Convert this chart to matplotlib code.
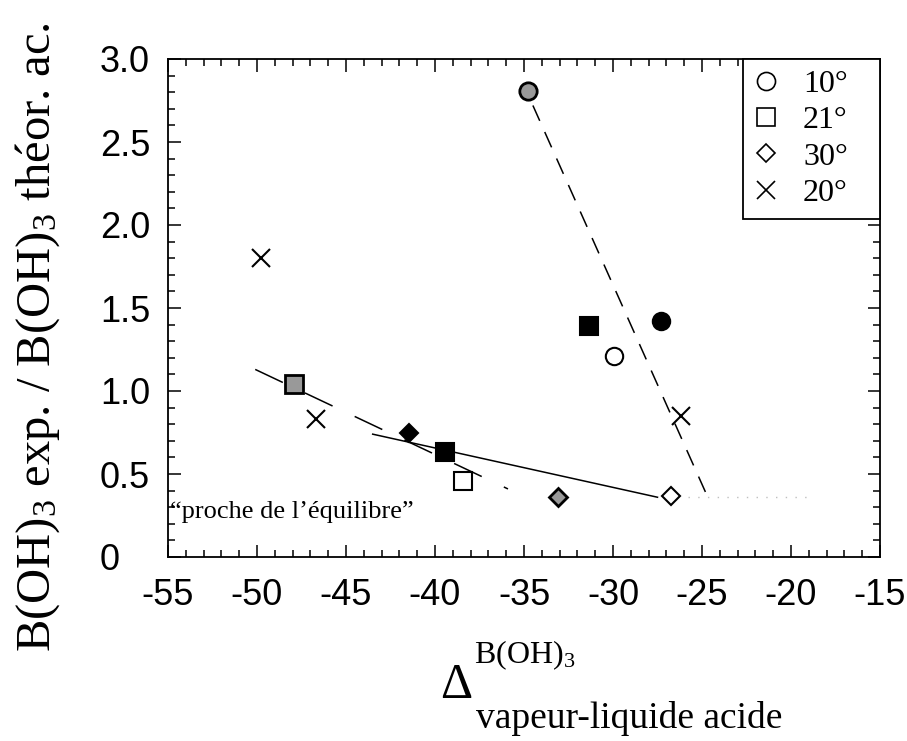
import numpy as np
import matplotlib
matplotlib.use("Agg")
import matplotlib.pyplot as plt
from matplotlib.lines import Line2D
from matplotlib.ticker import MultipleLocator, FuncFormatter

plt.rcParams['mathtext.fontset'] = 'custom'
plt.rcParams['mathtext.rm'] = 'Liberation Serif'
plt.rcParams['mathtext.it'] = 'Liberation Serif:italic'

SERIF = 'Liberation Serif'
SANS = 'Liberation Sans'

# points: (x, y)
# 10 deg, circles
c10_grey = ([-34.8], [2.81])
c10_black = ([-27.3], [1.42])
c10_open = ([-29.95], [1.21])
# 21 deg, squares
s21_grey = ([-47.9], [1.04])
s21_black = ([-31.35, -39.45], [1.39, 0.63])
s21_open = ([-38.4], [0.46])
# 30 deg, diamonds
d30_black = ([-41.45], [0.75])
d30_grey = ([-33.1], [0.36])
d30_open = ([-26.75], [0.37])
# 20 deg, crosses
x20 = ([-49.8, -46.7, -26.2], [1.80, 0.83, 0.85])

# trend lines
steep_x = [-34.5, -24.8]
steep_y = [2.72, 0.39]
low_dash_x = [-50.1, -35.9]
low_dash_y = [1.13, 0.41]
solid_x = [-43.5, -27.5]
solid_y = [0.74, 0.36]
dots_x = [-25.8, -18.8]
dots_y = [0.36, 0.36]

legend_labels = ['10°', '21°', '30°', '20°']

fig = plt.figure(figsize=(9.07, 7.41), dpi=100)
ax = fig.add_axes([168 / 907, 1 - 557 / 741, (880 - 168) / 907, (557 - 59) / 741])

ax.plot(steep_x, steep_y, color='black', lw=1.1, dashes=(11, 8))
ax.plot(low_dash_x, low_dash_y, color='black', lw=1.1, dashes=(20, 16))
ax.plot(solid_x, solid_y, color='black', lw=1.1)
ax.plot(dots_x, dots_y, color='0.75', lw=1.0, ls=(0, (1, 6)))

grey = '0.6'
ms_c, ms_s, ms_d, ms_x = 12.5, 13, 9, 13

ax.plot(*c10_grey, 'o', ms=ms_c, mfc=grey, mec='black', mew=2)
ax.plot(*c10_black, 'o', ms=ms_c, mfc='black', mec='black', mew=1.5)
ax.plot(*c10_open, 'o', ms=ms_c, mfc='white', mec='black', mew=1.5)

ax.plot(*s21_grey, 's', ms=ms_s, mfc=grey, mec='black', mew=2)
ax.plot(*s21_black, 's', ms=ms_s, ls='none', mfc='black', mec='black', mew=1.5)
ax.plot(*s21_open, 's', ms=ms_s, mfc='white', mec='black', mew=1.5)

ax.plot(*d30_black, 'D', ms=ms_d, mfc='black', mec='black', mew=1.5)
ax.plot(*d30_grey, 'D', ms=ms_d, mfc=grey, mec='black', mew=2)
ax.plot(*d30_open, 'D', ms=ms_d, mfc='white', mec='black', mew=1.5)

ax.plot(*x20, 'x', ms=ms_x, ls='none', color='black', mew=1.5)

ax.text(-54.9, 0.27, '\u201cproche de l\u2019\u00e9quilibre\u201d', family=SERIF,
        fontsize=19, ha='left', va='center')

ax.set_xlim(-55, -15)
ax.set_ylim(0, 3.0)
ax.xaxis.set_major_locator(MultipleLocator(5))
ax.xaxis.set_minor_locator(MultipleLocator(1))
ax.yaxis.set_major_locator(MultipleLocator(0.5))
ax.yaxis.set_minor_locator(MultipleLocator(0.1))
ax.xaxis.set_major_formatter(FuncFormatter(lambda v, p: '%d' % round(v)))
ax.yaxis.set_major_formatter(FuncFormatter(lambda v, p: '0' if abs(v) < 1e-9 else '%.1f' % v))
ax.tick_params(which='both', direction='in', top=True, right=True, width=1.1)
ax.tick_params(which='major', length=9)
ax.tick_params(which='minor', length=5)
ax.tick_params(axis='x', which='major', pad=15, labelsize=26)
ax.tick_params(axis='y', which='major', pad=49, labelsize=26)
for lab in ax.get_xticklabels() + ax.get_yticklabels():
    lab.set_family(SANS)
for lab in ax.get_yticklabels():
    lab.set_horizontalalignment('left')
for sp in ax.spines.values():
    sp.set_linewidth(1.3)

handles = [
    Line2D([], [], marker='o', ls='none', ms=13, mfc='white', mec='black', mew=1.2),
    Line2D([], [], marker='s', ls='none', ms=13, mfc='white', mec='black', mew=1.2),
    Line2D([], [], marker='D', ls='none', ms=9, mfc='white', mec='black', mew=1.2),
    Line2D([], [], marker='x', ls='none', ms=13, color='black', mew=1.2),
]
leg = ax.legend(handles, legend_labels, loc='upper right', mode='expand',
                bbox_to_anchor=((743 - 168) / 712, 0.5, (880 - 743) / 712, 0.5),
                borderaxespad=0, frameon=True, fancybox=False, edgecolor='black',
                framealpha=1, prop={'family': SERIF, 'size': 23}, handlelength=0.8,
                handletextpad=0.75, labelspacing=0.22, borderpad=0.33)
leg.get_frame().set_linewidth(1.3)

fig.text(38 / 907, 1 - 337 / 741, r'B(OH)$_3$ exp. / B(OH)$_3$ théor. ac.',
         family=SERIF, fontsize=35, rotation=90, ha='center', va='center')

fig.text(456 / 907, 1 - 686 / 741, '\u0394', family=SERIF, fontsize=36,
         ha='center', va='center')
fig.text(474 / 907, 1 - 655 / 741, r'B(OH)$_3$', family=SERIF, fontsize=23,
         ha='left', va='center')
fig.text(476 / 907, 1 - 718 / 741, 'vapeur-liquide acide', family=SERIF,
         fontsize=27, ha='left', va='center')

fig.savefig('out.png', dpi=100)
